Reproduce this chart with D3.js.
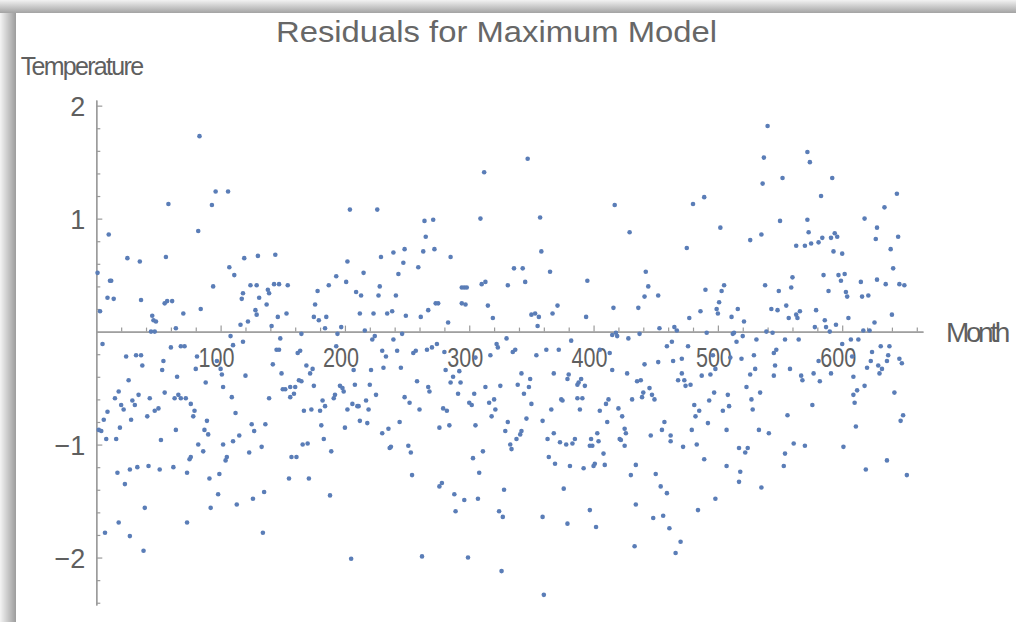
<!DOCTYPE html>
<html><head><meta charset="utf-8">
<script src="https://cdn.jsdelivr.net/npm/d3@7"></script>
<style>body{margin:0;background:#fff;overflow:hidden} svg{display:block}</style>
</head><body>
<svg id="c" width="1016" height="622"></svg>
<script>
// ---- data (month, residual), grouped by x range ----
const monthsA = [83,58,82,10,25,35,56,1,11,12,9,14,36,55,57,61,3,70,84,45,46,48,64,44,47,5,24,32,36,37,60,68,71,81,54,53,80,26,65,18,15,34,43,55,63,66,68,72,20,22,29,31,76,79,9,47,50,41,78,6,28,2,4,19,8,16,64,52,87,82,86,76,75,17,27,33,42,51,62,73,23,39,18,73,7,27,38];
const residualsA = [1.73,1.13,0.89,0.86,0.65,0.62,0.66,0.52,0.45,0.45,0.30,0.29,0.28,0.25,0.27,0.27,0.18,0.16,0.20,0.14,0.10,0.09,0.03,0.00,0.00,-0.11,-0.22,-0.21,-0.21,-0.30,-0.14,-0.13,-0.13,-0.22,-0.26,-0.34,-0.33,-0.43,-0.40,-0.53,-0.59,-0.56,-0.59,-0.54,-0.59,-0.56,-0.59,-0.59,-0.65,-0.69,-0.61,-0.65,-0.64,-0.70,-0.71,-0.70,-0.68,-0.75,-0.75,-0.78,-0.78,-0.87,-0.88,-0.85,-0.95,-0.95,-0.87,-0.96,-0.87,-1.00,-1.06,-1.11,-1.13,-1.25,-1.22,-1.20,-1.19,-1.22,-1.20,-1.25,-1.35,-1.56,-1.69,-1.69,-1.78,-1.81,-1.94];

const monthsB = [96,106,93,119,130,144,107,111,94,124,129,143,147,154,118,117,131,138,139,137,128,129,153,146,116,122,141,178,176,175,179,108,110,118,148,145,147,165,97,100,101,120,142,149,162,164,169,172,174,163,165,175,88,102,150,152,156,160,156,159,109,139,112,167,173,180,182,89,90,125,127,136,115,110,102,181,183,123,133,166,170,105,104,157,161,91,99,155,171,98,92,113,126,135,134];
const residualsB = [1.24,1.24,1.12,0.65,0.67,0.68,0.57,0.50,0.40,0.41,0.41,0.42,0.42,0.41,0.34,0.29,0.30,0.37,0.34,0.24,0.19,0.15,0.16,0.13,0.06,0.09,0.05,0.36,0.24,0.13,0.10,-0.04,-0.12,-0.09,-0.06,-0.16,-0.16,-0.02,-0.26,-0.33,-0.38,-0.39,-0.29,-0.37,-0.19,-0.17,-0.30,-0.37,-0.33,-0.43,-0.44,-0.48,-0.45,-0.49,-0.51,-0.51,-0.49,-0.49,-0.58,-0.55,-0.58,-0.59,-0.72,-0.70,-0.69,-0.70,-0.61,-0.79,-0.91,-0.82,-0.88,-0.82,-0.92,-0.97,-1.00,-0.83,-0.95,-1.07,-1.02,-1.00,-0.99,-1.11,-1.14,-1.11,-1.11,-1.30,-1.26,-1.30,-1.30,-1.44,-1.56,-1.53,-1.48,-1.42,-1.78];

const monthsC = [204,226,264,271,265,202,229,239,248,263,272,247,215,243,259,193,201,187,209,213,228,227,241,273,275,212,223,234,238,249,261,267,185,184,197,216,194,222,224,239,246,193,230,233,242,255,257,266,270,274,280,207,221,231,245,208,220,196,198,199,258,267,268,225,192,191,248,252,217,206,210,211,219,202,184,260,279,212,218,200,244,276,230,235,236,237,251,253,189,254,276,278,188,205,262];
const residualsC = [1.08,1.08,0.98,0.99,0.84,0.62,0.66,0.70,0.73,0.71,0.73,0.61,0.52,0.51,0.57,0.49,0.44,0.41,0.35,0.32,0.40,0.32,0.32,0.25,0.25,0.16,0.16,0.16,0.18,0.14,0.13,0.19,0.13,0.03,0.04,0.01,-0.02,-0.07,-0.04,-0.07,-0.02,-0.13,-0.17,-0.22,-0.17,-0.19,-0.17,-0.16,-0.14,-0.11,-0.18,-0.34,-0.34,-0.32,-0.32,-0.47,-0.47,-0.48,-0.50,-0.53,-0.44,-0.49,-0.53,-0.56,-0.56,-0.59,-0.58,-0.63,-0.61,-0.64,-0.66,-0.66,-0.69,-0.69,-0.66,-0.69,-0.68,-0.79,-0.81,-0.85,-0.80,-0.85,-0.90,-0.86,-1.03,-1.02,-1.01,-1.07,-1.06,-1.27,-1.37,-1.34,-1.45,-2.01,-1.99];

const monthsD = [347,312,309,357,358,285,336,343,365,310,313,345,331,294,296,298,294,297,315,371,319,350,353,356,367,355,283,330,322,323,335,337,317,305,354,362,372,281,292,285,287,293,342,349,368,313,325,339,348,291,304,344,300,302,316,320,350,374,375,282,321,366,318,346,359,284,305,331,329,342,341,338,368,363,333,334,373,311,303,364,369,308,376,288,296,307,328,289,324,327,359,299,326,360];
const residualsD = [1.53,1.41,1.00,1.01,0.71,0.66,0.56,0.56,0.53,0.42,0.44,0.44,0.41,0.39,0.39,0.39,0.25,0.24,0.23,0.23,0.12,0.15,0.16,0.13,0.16,0.05,0.08,-0.06,-0.11,-0.14,-0.18,-0.16,-0.21,-0.23,-0.21,-0.16,-0.16,-0.34,-0.35,-0.45,-0.40,-0.45,-0.37,-0.42,-0.37,-0.49,-0.48,-0.47,-0.49,-0.55,-0.55,-0.55,-0.63,-0.65,-0.63,-0.60,-0.64,-0.60,-0.61,-0.70,-0.69,-0.69,-0.75,-0.77,-0.79,-0.83,-0.83,-0.80,-0.88,-0.88,-0.91,-0.95,-0.90,-0.95,-1.00,-1.04,-0.98,-1.06,-1.12,-1.11,-1.17,-1.25,-1.39,-1.44,-1.49,-1.48,-1.40,-1.59,-1.59,-1.64,-1.64,-2.00,-2.12,-2.33];

const monthsE = [417,429,442,444,441,452,395,416,436,394,453,465,467,418,415,419,428,437,382,459,463,405,413,452,464,471,441,415,427,380,379,471,435,438,468,473,387,388,390,393,445,440,439,447,449,387,391,412,410,431,389,405,420,423,411,457,455,425,426,421,422,425,446,462,462,472,403,398,404,385,383,378,397,399,408,401,400,409,381,392,434,430,450,454,459,434,397,379,402,448,456,461,433,470,466];
const residualsE = [1.12,0.88,0.53,0.40,0.31,0.32,0.45,0.21,0.21,0.13,0.03,0.04,0.01,-0.01,-0.03,-0.04,-0.06,-0.02,-0.08,-0.13,-0.09,-0.16,-0.19,-0.27,-0.26,-0.24,-0.29,-0.34,-0.37,-0.38,-0.42,-0.37,-0.44,-0.43,-0.43,-0.43,-0.47,-0.45,-0.42,-0.48,-0.50,-0.54,-0.58,-0.56,-0.60,-0.59,-0.59,-0.60,-0.64,-0.60,-0.69,-0.70,-0.68,-0.75,-0.80,-0.80,-0.87,-0.86,-0.90,-0.95,-0.96,-1.01,-0.92,-0.92,-0.97,-1.02,-0.90,-0.95,-0.97,-0.95,-0.99,-1.00,-1.01,-1.01,-1.08,-1.17,-1.19,-1.18,-1.19,-1.21,-1.18,-1.27,-1.26,-1.37,-1.43,-1.53,-1.58,-1.70,-1.73,-1.65,-1.63,-1.74,-1.90,-1.86,-1.96];

const monthsF = [540,537,536,552,489,480,502,550,475,526,535,563,560,559,490,503,505,538,549,501,499,500,516,486,511,521,477,543,548,555,557,563,564,566,539,544,491,512,513,520,515,531,554,565,476,496,510,519,529,545,547,498,494,487,530,526,546,545,558,567,568,474,478,523,497,534,508,527,493,481,485,504,509,528,482,556,492,479,507,533,541,483,561,570,517,524,522,554,489,507,553,518,517,535,498,484];
const residualsF = [1.82,1.54,1.31,1.36,1.19,1.13,0.92,0.98,0.74,0.81,0.86,0.76,0.48,0.39,0.37,0.36,0.41,0.41,0.36,0.26,0.20,0.16,0.20,0.18,0.13,0.09,0.12,0.20,0.19,0.23,0.12,0.15,0.12,0.18,0.00,-0.01,-0.01,-0.02,-0.01,-0.04,-0.09,-0.07,-0.07,-0.07,-0.13,-0.21,-0.23,-0.24,-0.21,-0.19,-0.16,-0.33,-0.38,-0.39,-0.33,-0.38,-0.30,-0.39,-0.33,-0.39,-0.43,-0.48,-0.47,-0.49,-0.54,-0.54,-0.56,-0.60,-0.61,-0.65,-0.70,-0.70,-0.66,-0.69,-0.75,-0.74,-0.81,-0.87,-0.87,-0.87,-0.90,-1.00,-0.99,-1.01,-1.03,-1.03,-1.07,-1.08,-1.13,-1.19,-1.19,-1.24,-1.33,-1.38,-1.48,-1.58];

const monthsG = [572,574,592,583,644,634,572,618,573,594,596,628,627,645,570,575,581,584,591,593,600,639,641,585,597,599,602,615,628,635,646,650,589,603,604,616,621,579,640,605,586,587,590,578,595,626,617,622,607,613,600,631,638,624,637,608,581,623,636,646,648,620,629,632,630,577,591,609,582,618,612,609,610,642,576,649,647,611,601,636,619,652];
const residualsG = [1.59,1.50,1.36,1.20,1.22,1.10,0.99,1.00,0.88,0.87,0.84,0.92,0.82,0.84,0.76,0.78,0.79,0.83,0.83,0.71,0.69,0.73,0.56,0.50,0.50,0.45,0.51,0.44,0.46,0.42,0.42,0.41,0.36,0.35,0.31,0.31,0.32,0.19,0.15,0.12,0.10,0.04,0.00,0.04,0.06,0.08,0.01,0.01,-0.07,-0.07,-0.11,-0.13,-0.13,-0.18,-0.21,-0.22,-0.26,-0.26,-0.26,-0.24,-0.28,-0.32,-0.30,-0.33,-0.37,-0.37,-0.37,-0.40,-0.44,-0.48,-0.52,-0.56,-0.63,-0.54,-0.65,-0.74,-0.79,-0.84,-1.02,-1.14,-1.22,-1.27];

const xTickLabels = [100, 200, 300, 400, 500, 600];
const yTickLabels = [-2, -1, 1, 2];
const titleText = "Residuals for Maximum Model";
const xAxisLabel = "Month";
const yAxisLabel = "Temperature";

// ---- build ----
const months = [].concat(monthsA, monthsB, monthsC, monthsD, monthsE, monthsF, monthsG);
const residuals = [].concat(residualsA, residualsB, residualsC, residualsD, residualsE, residualsF, residualsG);
const points = months.map((m, i) => ({month: m, value: residuals[i]}));

const svg = d3.select('#c');
const defs = svg.append('defs');
const gt = defs.append('linearGradient').attr('id', 'gt').attr('x1', 0).attr('y1', 0).attr('x2', 0).attr('y2', 1);
gt.append('stop').attr('offset', '0%').attr('stop-color', '#f2f2f2');
gt.append('stop').attr('offset', '100%').attr('stop-color', '#a3a3a3');
const gl = defs.append('linearGradient').attr('id', 'gl').attr('x1', 0).attr('y1', 0).attr('x2', 1).attr('y2', 0);
gl.append('stop').attr('offset', '0%').attr('stop-color', '#f4f4f4');
gl.append('stop').attr('offset', '100%').attr('stop-color', '#9c9c9c');

svg.append('rect').attr('x', 0).attr('y', 0).attr('width', 1016).attr('height', 622).attr('fill', '#fff');
svg.append('rect').attr('x', 0).attr('y', 0).attr('width', 1016).attr('height', 13).attr('fill', 'url(#gt)');
svg.append('rect').attr('x', 0).attr('y', 13).attr('width', 16).attr('height', 609).attr('fill', 'url(#gl)');

const x = d3.scaleLinear().domain([0, 665]).range([96.3, 923]);
const y = d3.scaleLinear().domain([-2.42, 2.05]).range([605, 100]);

const axisColor = '#9a9a9a';
const textColor = '#5f5f5f';
const font = '"Liberation Sans", Arial, Helvetica, sans-serif';

// minor ticks
const xMinor = d3.range(20, 661, 20).filter(v => v % 100 !== 0);
const yMinor = d3.range(-12, 11).map(i => i / 5).filter(v => Math.abs(v - Math.round(v)) > 1e-9);

const gx = svg.append('g').attr('transform', `translate(0,${y(0)})`);
gx.call(d3.axisBottom(x).tickValues(xMinor).tickSizeInner(-4).tickSizeOuter(0).tickFormat(''));
gx.append('g').call(d3.axisBottom(x).tickValues(xTickLabels).tickSizeInner(-6).tickSizeOuter(0).tickPadding(0));
gx.selectAll('.domain').attr('stroke', axisColor).attr('stroke-width', 1.3);
gx.selectAll('.tick line').attr('stroke', axisColor).attr('stroke-width', 1.2);
gx.selectAll('.tick text')
  .attr('y', 35).attr('dy', 0).attr('x', -4.5)
  .attr('fill', textColor).attr('font-family', font).attr('font-size', 27)
  .attr('textLength', 36).attr('lengthAdjust', 'spacingAndGlyphs');

const gy = svg.append('g').attr('transform', `translate(${x(0)},0)`);
gy.call(d3.axisLeft(y).tickValues(yMinor).tickSizeInner(-4).tickSizeOuter(0).tickFormat(''));
gy.append('g').call(d3.axisLeft(y).tickValues(yTickLabels).tickSizeInner(-6).tickSizeOuter(0).tickPadding(11)
  .tickFormat(d => d < 0 ? '\u2212' + Math.abs(d) : String(d)));
gy.selectAll('.domain').attr('stroke', axisColor).attr('stroke-width', 1.3);
gy.selectAll('.tick line').attr('stroke', axisColor).attr('stroke-width', 1.2);
gy.selectAll('.tick text')
  .attr('dy', '0.37em')
  .attr('fill', textColor).attr('font-family', font).attr('font-size', 27);

// titles
svg.append('text').text(titleText)
  .attr('x', 276).attr('y', 41.7)
  .attr('fill', '#676767').attr('font-family', font).attr('font-size', 30)
  .attr('textLength', 441).attr('lengthAdjust', 'spacingAndGlyphs');
svg.append('text').text(yAxisLabel)
  .attr('x', 20.7).attr('y', 75)
  .attr('fill', textColor).attr('font-family', font).attr('font-size', 25)
  .attr('letter-spacing', '-1.7px');
svg.append('text').text(xAxisLabel)
  .attr('x', 946).attr('y', 341.7)
  .attr('fill', textColor).attr('font-family', font).attr('font-size', 28)
  .attr('letter-spacing', '-3.4px');

// points
svg.append('g').selectAll('circle').data(points).join('circle')
  .attr('cx', d => x(d.month))
  .attr('cy', d => y(d.value))
  .attr('r', 2.3)
  .attr('fill', '#5a7db7');
</script>
</body></html>
